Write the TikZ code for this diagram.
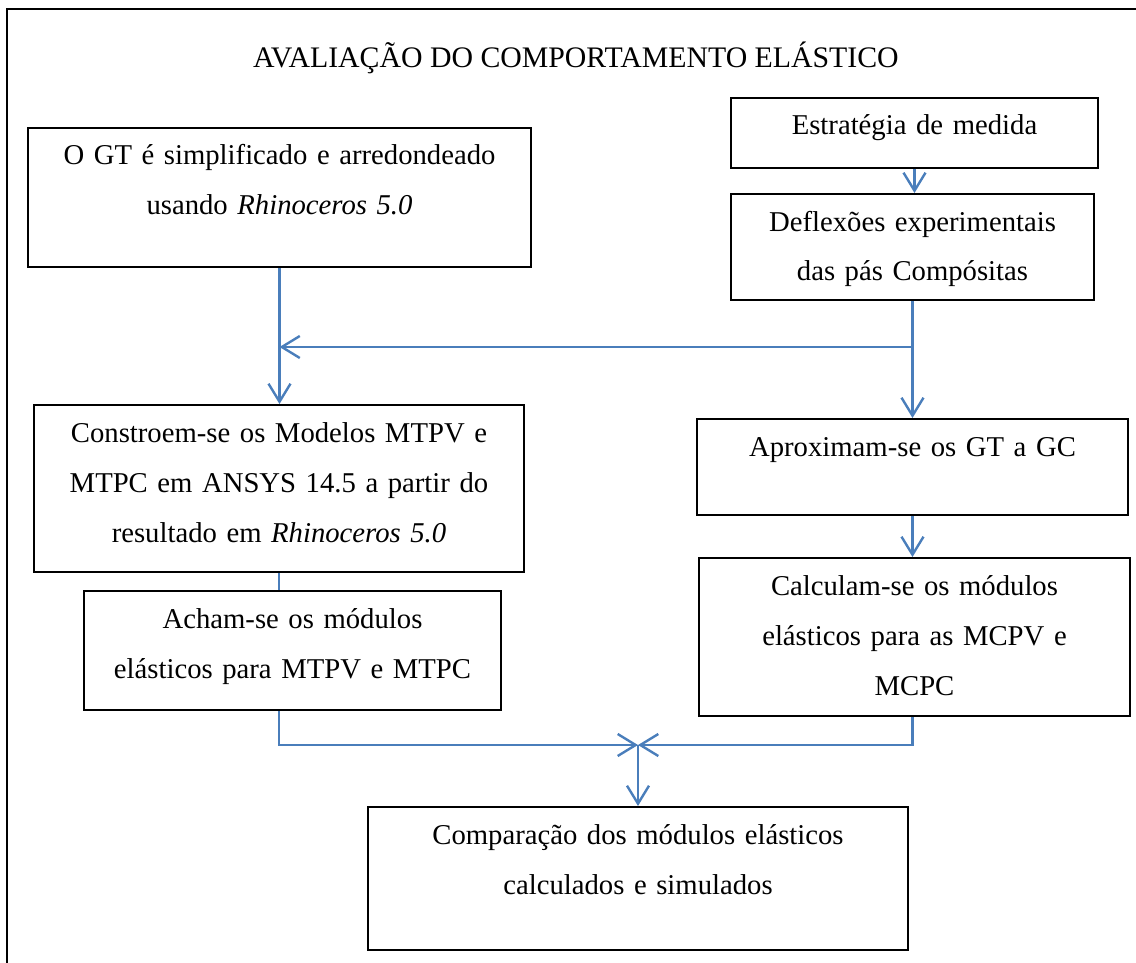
\documentclass[tikz,border=0pt]{standalone}
\usepackage{fontspec}
\setmainfont{Liberation Serif}
\usetikzlibrary{arrows.meta}
\definecolor{azulseta}{RGB}{74,126,187}
\tikzset{
  caixa/.style={draw, line width=2pt, inner sep=0pt, anchor=north west,
    align=center, text height=37pt, font=\fontsize{28.7}{50}\selectfont},
  seta/.style={draw=azulseta, line width=2.4pt,
    -{Straight Barb[length=18pt,width=22pt]}}
}
\begin{document}
\begin{tikzpicture}[x=1pt,y=-1pt]
      \clip (0,0) rectangle (1136,963);
      \draw[line width=2pt] (7,9) rectangle (1160,990);
      \node[anchor=base, font=\fontsize{29.8}{34}\selectfont] (titulo) at (576,68)
        {AVALIAÇÃO DO COMPORTAMENTO ELÁSTICO};
      \node[caixa, text width=503pt, text depth=102pt] (gt) at (27,127)
        {O GT é simplificado e arredondeado\\usando \textit{Rhinoceros 5.0}};
      \node[caixa, text width=367pt, text depth=33pt] (estr) at (730,97)
        {Estratégia de medida};
      \node[caixa, text width=363pt, text depth=69pt] (defl) at (730,193)
        {Deflexões experimentais\\das pás Compósitas};
      \node[caixa, text width=490pt, text depth=130pt] (constr) at (33,404)
        {Constroem-se os Modelos MTPV e\\MTPC em ANSYS 14.5 a partir do\\resultado em \textit{Rhinoceros 5.0}};
      \node[caixa, text width=431pt, text depth=59pt] (aprox) at (696,418)
        {Aproximam-se os GT a GC};
      \node[caixa, text width=417pt, text depth=82pt] (acham) at (83,590)
        {Acham-se os módulos\\elásticos para MTPV e MTPC};
      \node[caixa, text width=431pt, text depth=121pt] (calc) at (698,557)
        {Calculam-se os módulos\\elásticos para as MCPV e\\MCPC};
      \node[caixa, text width=540pt, text depth=106pt] (comp) at (367,806)
        {Comparação dos módulos elásticos\\calculados e simulados};
      \coordinate (ramo) at (911,347);
      \coordinate (juncao) at (638,745);
      \begin{scope}[seta]
        \draw (estr.south) to (estr.south |- defl.north);
        \draw (defl.south) to (aprox.north);
        \draw (ramo) to (ramo -| gt.south);
        \draw (gt.south) to (gt.south |- constr.north);
        \draw (aprox.south) to (aprox.south |- calc.north);
        \draw[-] (constr.south) to (constr.south |- acham.north);
        \draw (constr.south |- acham.south) |- (juncao);
        \draw (aprox.south |- calc.south) |- (juncao);
        \draw (juncao) to (juncao |- comp.north);
      \end{scope}
    \end{tikzpicture}
\end{document}
